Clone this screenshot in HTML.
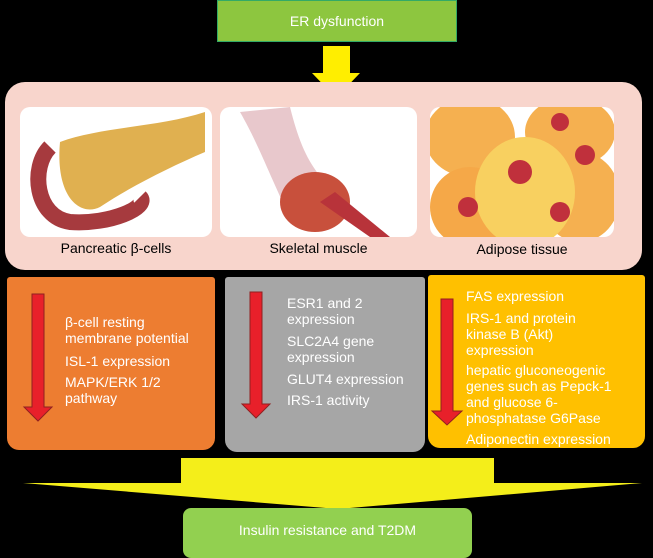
<!DOCTYPE html>
<html><head><style>
body{margin:0;background:#000;width:653px;height:556px;overflow:hidden;position:relative;font-family:"Liberation Sans",sans-serif}
.a{position:absolute}
.t{position:absolute;color:#fff;font-size:14px;line-height:16px}
</style></head><body>
<div class="a" style="left:217px;top:0;width:240px;height:42px;background:#8dc63f;border:1px solid #3a6;box-sizing:border-box;color:#fff;font-size:14px;text-align:center;line-height:40px">ER dysfunction</div>
<svg class="a" style="left:0;top:0" width="653" height="556">
<polygon points="323,46 350,46 350,73 360,73 336,98 312,73 323,73" fill="#ffee00"/>
</svg>
<div class="a" style="left:5px;top:82px;width:637px;height:188px;background:#f8d5cc;border-radius:20px"></div>
<svg class="a" style="left:20px;top:107px" width="192" height="130"><rect width="192" height="130" rx="10" fill="#fff"/>
<path d="M30,40 C10,60 15,110 50,115 C90,118 130,100 120,90" stroke="#a63a3e" stroke-width="16" fill="none"/>
<path d="M40,35 C80,20 140,20 185,5 L185,45 C150,60 110,80 80,100 C60,110 35,90 40,35Z" fill="#e0b050"/>
</svg>
<svg class="a" style="left:220px;top:107px" width="197" height="130"><rect width="197" height="130" rx="10" fill="#fff"/>
<path d="M20,5 L70,0 C80,40 90,60 110,80 L70,110 C50,70 40,40 20,5Z" fill="#e8c8cc"/>
<ellipse cx="95" cy="95" rx="35" ry="30" fill="#c8503c"/>
<path d="M100,95 L150,130 L170,130 L115,85Z" fill="#b8333a"/>
</svg>
<svg class="a" style="left:430px;top:107px" width="184" height="130"><rect width="184" height="130" rx="10" fill="#fff"/>
<ellipse cx="40" cy="30" rx="45" ry="40" fill="#f5b050"/>
<ellipse cx="140" cy="25" rx="45" ry="35" fill="#f5b050"/>
<ellipse cx="40" cy="100" rx="40" ry="40" fill="#f5a848"/>
<ellipse cx="150" cy="90" rx="40" ry="45" fill="#f5b050"/>
<ellipse cx="95" cy="85" rx="50" ry="55" fill="#f8d060"/>
<circle cx="90" cy="65" r="12" fill="#c0303c"/><circle cx="155" cy="48" r="10" fill="#c0303c"/>
<circle cx="130" cy="105" r="10" fill="#c0303c"/><circle cx="38" cy="100" r="10" fill="#c0303c"/><circle cx="130" cy="15" r="9" fill="#c0303c"/>
</svg>
<div class="t" style="left:20px;top:240px;width:192px;text-align:center;color:#000">Pancreatic β-cells</div>
<div class="t" style="left:220px;top:240px;width:197px;text-align:center;color:#000">Skeletal muscle</div>
<div class="t" style="left:430px;top:241px;width:184px;text-align:center;color:#000">Adipose tissue</div>
<div class="a" style="left:7px;top:277px;width:208px;height:173px;background:#ed7d31;border-radius:3px 3px 12px 12px"></div>
<div class="a" style="left:225px;top:277px;width:200px;height:175px;background:#a6a6a6;border-radius:3px 3px 12px 12px"></div>
<div class="a" style="left:428px;top:275px;width:217px;height:173px;background:#ffc000;border-radius:3px 3px 12px 12px"></div>
<svg class="a" style="left:0;top:0" width="653" height="556">
<polygon points="32,294 44,294 44,407 52,407 38,421 24,407 32,407" fill="#e8202a" stroke="#902020"/>
<polygon points="250,292 262,292 262,404 270,404 256,418 242,404 250,404" fill="#e8202a" stroke="#902020"/>
<polygon points="441,299 453,299 453,411 462,411 447,425 432,411 441,411" fill="#e8202a" stroke="#902020"/>
<polygon points="181,458 494,458 494,483 642,483 338,509 23,483 181,483" fill="#f4ee1a"/>
</svg>
<div class="t" style="left:65px;top:314px">β-cell resting<br>membrane potential</div>
<div class="t" style="left:65px;top:353px">ISL-1 expression</div>
<div class="t" style="left:65px;top:374px">MAPK/ERK 1/2<br>pathway</div>
<div class="t" style="left:287px;top:295px">ESR1 and 2<br>expression</div>
<div class="t" style="left:287px;top:333px">SLC2A4 gene<br>expression</div>
<div class="t" style="left:287px;top:371px">GLUT4 expression</div>
<div class="t" style="left:287px;top:392px">IRS-1 activity</div>
<div class="t" style="left:466px;top:288px">FAS expression</div>
<div class="t" style="left:466px;top:310px">IRS-1 and protein<br>kinase B (Akt)<br>expression</div>
<div class="t" style="left:466px;top:362px">hepatic gluconeogenic<br>genes such as Pepck-1<br>and glucose 6-<br>phosphatase G6Pase</div>
<div class="t" style="left:466px;top:431px">Adiponectin expression</div>
<div class="a" style="left:183px;top:508px;width:289px;height:50px;background:#92d050;border-radius:8px;color:#fff;font-size:14px;text-align:center;line-height:44px">Insulin resistance and T2DM</div>
</body></html>
